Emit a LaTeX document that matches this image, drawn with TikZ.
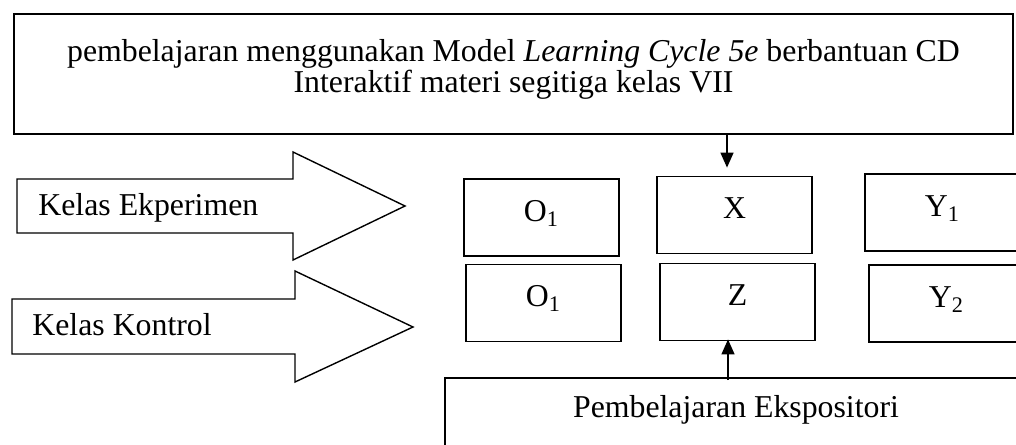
\documentclass[tikz,border=0pt]{standalone}
\usepackage{fontspec}
\setmainfont{Liberation Serif}
\usetikzlibrary{arrows.meta,positioning}
\tikzset{
    %Define standard arrow tip
    >={Triangle[length=7.5pt,width=6.5pt]},
    %Define style for boxes
    block/.style={
           rectangle,
           draw=black,
           line width=0.9pt,
           minimum width=77.5pt,
           minimum height=38.5pt,
           text height=10pt,
           text depth=6.5pt,
           inner sep=0pt},
    % Define arrow style
    arrow/.style={
           ->,
           line width=0.7pt,
           },
    % Define style for the big hollow arrows
    bigarrow/.style={
           draw=black,
           line width=0.7pt,
           line join=miter}
}

\begin{document}
\begin{tikzpicture}[x=0.5pt, y=-0.5pt, font=\fontsize{15.9}{15.5}\selectfont]
    \useasboundingbox (0,0) rectangle (1016,444);

    \node [rectangle, draw=black, line width=0.9pt, inner sep=0pt,
           minimum width=499.5pt, minimum height=60pt, align=center] (LC) at (513.5,74)
          {pembelajaran menggunakan Model \textit{Learning Cycle 5e} berbantuan CD\\Interaktif materi segitiga kelas VII\rule[-8.5pt]{0pt}{0pt}};
    \node [block, minimum width=291pt, minimum height=50pt, anchor=north,
           text height=11pt, text depth=21pt] (EKS) at (736,377) {Pembelajaran Ekspositori};

    \node [block] (O1a) at (541.5,217.5) {O\textsubscript{1}};
    \node [block] (X) at (734.5,215) {X};
    \node [block] (Y1) at (942.5,212.5) {Y\textsubscript{1}};
    \node [block] (O1b) at (543.5,303) {O\textsubscript{1}};
    \node [block] (Z) at (737.5,302) {Z};
    \node [block] (Y2) at (946.5,303.5) {Y\textsubscript{2}};

    % big arrows for the two classes
    \draw [bigarrow] (17,179) -- (293,179) -- (293,152) -- (405,206) -- (293,260) -- (293,233) -- (17,233) -- cycle;
    \node [anchor=base west, inner sep=0pt] (EKP) at (38,215) {Kelas Ekperimen};
    \draw [bigarrow] (12,299) -- (295,299) -- (295,271) -- (413,327) -- (295,382) -- (295,354) -- (12,354) -- cycle;
    \node [anchor=base west, inner sep=0pt] (KON) at (32,335) {Kelas Kontrol};

    \draw [arrow, shorten >=4pt] ([xshift=-3.75pt]LC.south -| X.north) -- ([xshift=-3.75pt]X.north);
    \draw [arrow, shorten <=-1.5pt, shorten >=-1pt] ([xshift=-4.75pt]EKS.north -| Z.south) -- ([xshift=-4.75pt]Z.south);
\end{tikzpicture}
\end{document}
